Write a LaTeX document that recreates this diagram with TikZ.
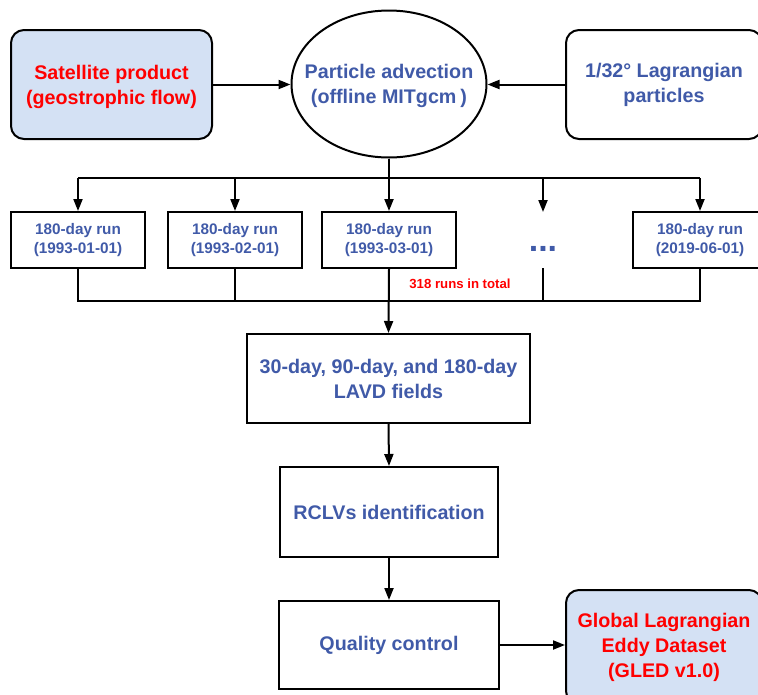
\documentclass[tikz,border=0pt]{standalone}
\usepackage{fontspec}
\setmainfont{Liberation Sans}
\usetikzlibrary{arrows.meta,shapes.geometric}
\definecolor{txtblue}{RGB}{64,90,168}
\definecolor{txtred}{RGB}{255,0,0}
\definecolor{boxfill}{RGB}{212,225,244}
\tikzset{
  every node/.style={font=\bfseries},
  big/.style={font=\fontsize{19.7}{25}\selectfont\bfseries},
  small/.style={font=\fontsize{15.3}{19}\selectfont\bfseries},
  plainbox/.style={draw=black, line width=2pt, rectangle, align=center, inner sep=0pt},
  roundbox/.style={plainbox, rounded corners=13pt, fill=boxfill},
  runbox/.style={plainbox, small, text=txtblue, minimum width=134pt, minimum height=56pt},
  conn/.style={line width=2pt, draw=black},
  arr/.style={conn, -{Triangle[length=12pt,width=9pt]}},
}
\begin{document}
\begin{tikzpicture}[x=1pt,y=-1pt]
\useasboundingbox (0,0) rectangle (758,694);
\clip (0,0) rectangle (758,694);

\node[roundbox, big, text=txtred, minimum width=201pt, minimum height=109pt, yshift=-2pt, text depth=0pt] (sat) at (111.5,82.5) {Satellite product\\(geostrophic flow)};
\node[ellipse, draw=black, line width=2pt, inner sep=0pt, minimum width=195pt, minimum height=147pt] (adv) at (389,84) {};
\node[big, text=txtblue, align=center, inner sep=0pt] (advtxt) at (389,86) {Particle advection\\(offline MITgcm\hspace{4pt})};
\node[roundbox, big, text=txtblue, fill=white, minimum width=196pt, minimum height=109pt] (lag) at (664,84.5) {1/32° Lagrangian\\particles};

\draw[arr] (sat.east) -- (sat.east -| adv.west);
\draw[arr] (lag.west) -- (lag.west -| adv.east);

\node[runbox] (r1) at (78,240) {180-day run\\(1993-01-01)};
\node[runbox] (r2) at (235,240) {180-day run\\(1993-02-01)};
\node[runbox] (r3) at (389,240) {180-day run\\(1993-03-01)};
\node[font=\fontsize{34}{34}\selectfont\bfseries, text=txtblue, inner sep=0pt] (dots) at (543,249) {...};
\node[runbox] (r5) at (700,240) {180-day run\\(2019-06-01)};

\coordinate (split) at (389,178);
\coordinate (join) at (389,301);
\coordinate (dtop) at (543,212);
\coordinate (dbot) at (543,268);

% distribution
\draw[conn] (r1.north |- split) -- (r5.north |- split);
\draw[arr] (adv.south) -- (r3.north);
\draw[arr] (r1.north |- split) -- (r1.north);
\draw[arr] (r2.north |- split) -- (r2.north);
\draw[arr] (dtop |- split) -- (dtop);
\draw[arr] (r5.north |- split) -- (r5.north);

% collection
\draw[conn] (r1.south) -- (r1.south |- join) -- (r5.south |- join) -- (r5.south);
\draw[conn] (r2.south) -- (r2.south |- join);
\draw[conn] (dbot) -- (dbot |- join);

\node[text=txtred, font=\fontsize{13.2}{16}\selectfont\bfseries] (total) at (460,284) {318 runs in total};

\node[plainbox, big, text=txtblue, minimum width=283pt, minimum height=89pt] (lavd) at (388.5,378.5) {30-day, 90-day, and 180-day\\LAVD fields};
\draw[arr] (r3.south) -- (lavd.north);

\node[plainbox, big, text=txtblue, minimum width=218pt, minimum height=90pt] (rclv) at (389,512) {RCLVs identification};
\node[plainbox, big, text=txtblue, minimum width=220pt, minimum height=88pt] (qc) at (389,645) {Quality control};
\node[roundbox, big, text=txtred, minimum width=196pt, minimum height=114pt] (gled) at (664,647) {Global Lagrangian\\Eddy Dataset\\(GLED v1.0)};

\draw[arr] (lavd.south) -- (rclv.north);
\draw[arr] (rclv.south) -- (qc.north);
\draw[arr] (qc.east) -- (qc.east -| gled.west);
\end{tikzpicture}
\end{document}
